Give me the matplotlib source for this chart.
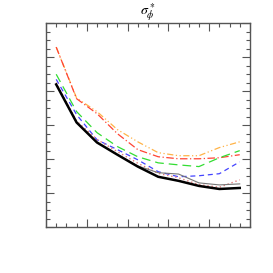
import numpy as np
import matplotlib
matplotlib.use('Agg')
from matplotlib import pyplot as plt
from matplotlib.ticker import MultipleLocator

plt.rcParams['mathtext.fontset'] = 'stix'

# data
x = [0.25, 0.75, 1.25, 1.75, 2.25, 2.75, 3.25, 3.75, 4.25, 4.75]
black = [4.20, 3.08, 2.49, 2.13, 1.78, 1.48, 1.36, 1.21, 1.12, 1.15]
gray = [4.20, 3.08, 2.49, 2.13, 1.80, 1.60, 1.56, 1.30, 1.24, 1.27]
dotted = [4.25, 3.12, 2.58, 2.22, 1.88, 1.58, 1.45, 1.25, 1.17, 1.39]
blue = [4.35, 3.31, 2.57, 2.28, 1.98, 1.63, 1.48, 1.51, 1.57, 1.92]
green = [4.50, 3.40, 2.78, 2.37, 2.07, 1.89, 1.83, 1.78, 2.04, 2.25]
red = [5.30, 3.78, 3.34, 2.75, 2.28, 2.07, 2.01, 2.01, 2.04, 2.13]
orange = [5.30, 3.80, 3.40, 2.87, 2.51, 2.19, 2.10, 2.10, 2.34, 2.51]

fig = plt.figure(figsize=(2.73, 2.73), dpi=100)
ax = fig.add_axes([0.1685, 0.1685, 0.747, 0.746])

ax.plot(x, orange, color='#ffb347', lw=0.9, dashes=[5, 2, 1, 2, 1, 2])
ax.plot(x, red, color='#ff4433', lw=0.9, dashes=[6, 2, 1, 2])
ax.plot(x, green, color='#33dd33', lw=0.9, dashes=[7, 4])
ax.plot(x, blue, color='#4444ff', lw=0.9, dashes=[4, 3])
ax.plot(x, dotted, color='#e07a7a', lw=1.0, dashes=[1, 2])
ax.plot(x, gray, color='#777777', lw=0.8)
ax.plot(x, black, color='black', lw=1.8)

ax.set_xlim(0, 5)
ax.set_ylim(0, 6)
ax.xaxis.set_major_locator(MultipleLocator(1))
ax.xaxis.set_minor_locator(MultipleLocator(0.25))
ax.yaxis.set_major_locator(MultipleLocator(1))
ax.yaxis.set_minor_locator(MultipleLocator(0.25))
ax.tick_params(which='both', direction='in', top=True, right=True,
               labelbottom=False, labelleft=False, color='#555555', width=0.8)
ax.tick_params(which='major', length=6)
ax.tick_params(which='minor', length=3)
for s in ax.spines.values():
    s.set_color('#555555')
    s.set_linewidth(1.0)

ax.set_title(r'$\sigma^*_\phi$', fontsize=10, pad=5)

fig.savefig('out.png', dpi=100)
